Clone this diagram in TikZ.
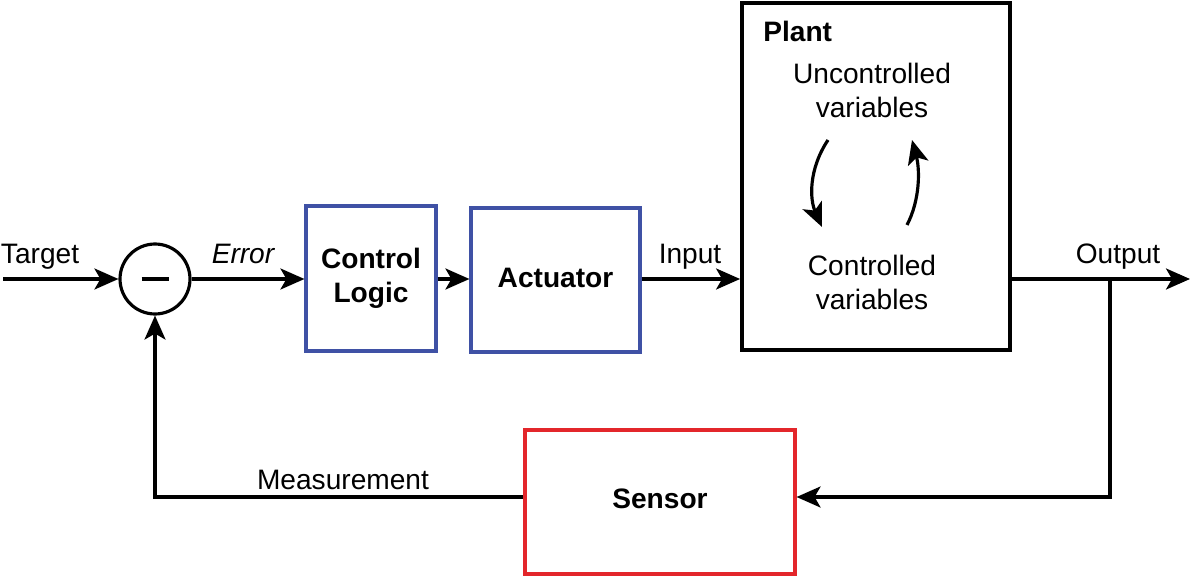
\documentclass[tikz,border=0pt]{standalone}
\usepackage{fontspec}
\setmainfont{Liberation Sans}
\usetikzlibrary{arrows.meta}
\definecolor{boxblue}{RGB}{63,81,165}
\definecolor{boxred}{RGB}{227,38,43}
\begin{document}
\begin{tikzpicture}[x=0.02cm,y=-0.02cm,font=\fontsize{16pt}{19.4pt}\selectfont]
    \tikzstyle{block}=[rectangle,draw,line width=1.8pt,align=center,font=\fontsize{16pt}{19.4pt}\selectfont\bfseries]
    \tikzstyle{wire}=[line width=1.8pt,-{Stealth[length=0.48cm,width=0.42cm,inset=0.12cm]}]
    \tikzstyle{label}=[inner sep=0pt,anchor=base]
    \useasboundingbox (0,0) rectangle (1192,577);

    \node[circle,draw,line width=1.8pt,minimum size=1.4cm] (sum) at (155,279) {};
    \draw[line width=2.4pt] ([xshift=-0.27cm]sum.center) -- ([xshift=0.27cm]sum.center);

    \node[block,draw=boxblue,minimum width=2.6cm,minimum height=2.9cm] (ctrl) at (371,278.5) {Control\\Logic};
    \node[block,draw=boxblue,minimum width=3.38cm,minimum height=2.88cm] (act) at (555.5,280) {\raisebox{0.08cm}{Actuator}};
    \node[block,line width=2.2pt,minimum width=5.36cm,minimum height=6.94cm] (plant) at (876,176.5) {};
    \node[block,draw=boxred,minimum width=5.4cm,minimum height=2.88cm] (sensor) at (660,502) {\raisebox{0.14cm}{Sensor}};

    \node[anchor=west,inner sep=0pt,font=\fontsize{16pt}{19.4pt}\selectfont\bfseries] (plantname) at (763,31) {Plant};
    \node[align=center] (unc) at (872,90) {Uncontrolled\\variables};
    \node[align=center] (con) at (872,282) {Controlled\\variables};

    \node[label] (target) at (40,264) {Target};
    \node[label,font=\fontsize{16pt}{19.4pt}\selectfont\itshape] (error) at (243,264) {Error};
    \node[label] (input) at (690,264) {Input};
    \node[label] (output) at (1118,264) {Output};
    \node[label] (meas) at (343,489) {Measurement};

    \coordinate (tin) at (3,279);
    \coordinate (tout) at (1190,279);
    \coordinate (split) at (1110,279);
    \coordinate (down1) at (828,140);
    \coordinate (down2) at (822,227);
    \coordinate (up1) at (907,225);
    \coordinate (up2) at (912,140);

    \draw[wire] (tin) -- (sum.west);
    \draw[wire] (sum.east) -- (ctrl.west |- sum.east);
    \draw[wire] (ctrl.east |- sum.east) -- (act.west |- sum.east);
    \draw[wire] (act.east |- sum.east) -- (plant.west |- sum.east);
    \draw[wire] (plant.east |- tout) -- (tout);
    \draw[wire] (split) |- ([yshift=0.1cm]sensor.east);
    \draw[wire] ([yshift=0.1cm]sensor.west) -| (sum.south);

    \draw[wire] (down1) .. controls (808,170) and (810,200) .. (down2);
    \draw[wire] (up1) .. controls (920,200) and (920,170) .. (up2);

\end{tikzpicture}
\end{document}
